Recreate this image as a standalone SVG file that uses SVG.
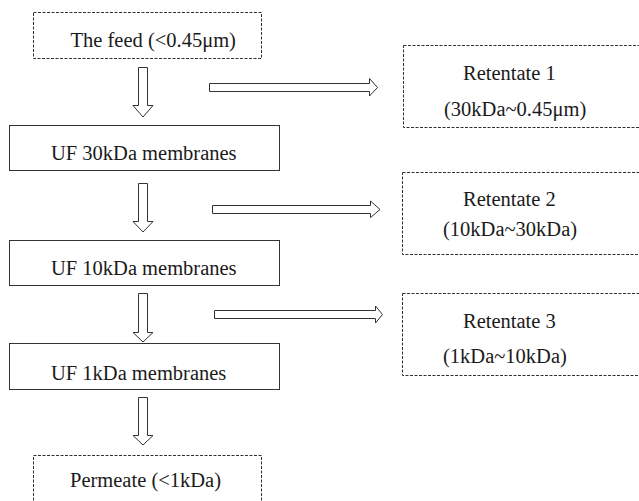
<svg xmlns="http://www.w3.org/2000/svg" width="639" height="501" viewBox="0 0 639 501">
  <style>
    .solid { fill: #ffffff; stroke: #333333; stroke-width: 1; }
    .dashed { fill: #ffffff; stroke: #333333; stroke-width: 1; stroke-dasharray: 3 1.5; }
    .label { font-family: "Liberation Serif", "Times New Roman", serif; font-size: 20.5px; fill: #1a1a1a; }
    .arrow { fill: #ffffff; stroke: #333333; stroke-width: 1; stroke-linejoin: miter; }
  </style>
  <rect width="639" height="501" fill="#ffffff"/>

  <!-- Main separation chain -->
  <g id="feed">
    <rect class="dashed" x="33.5" y="12.5" width="228" height="46"/>
    <text class="label" x="70.5" y="47">The feed (&lt;0.45μm)</text>
  </g>

  <g id="uf30">
    <rect class="solid" x="9.5" y="125.5" width="270" height="45"/>
    <text class="label" x="51" y="160">UF 30kDa membranes</text>
  </g>

  <g id="uf10">
    <rect class="solid" x="9.5" y="240.5" width="270" height="45"/>
    <text class="label" x="51" y="275">UF 10kDa membranes</text>
  </g>

  <g id="uf1">
    <rect class="solid" x="9.5" y="343.5" width="270" height="46"/>
    <text class="label" x="51" y="380">UF 1kDa membranes</text>
  </g>

  <g id="permeate">
    <rect class="dashed" x="33.5" y="455.5" width="228" height="60"/>
    <text class="label" x="70" y="487">Permeate (&lt;1kDa)</text>
  </g>

  <!-- Retentate fractions -->
  <g id="retentate1">
    <rect class="dashed" x="403.5" y="45.5" width="250" height="82"/>
    <text class="label" x="463" y="80">Retentate 1</text>
    <text class="label" x="444" y="116">(30kDa~0.45μm)</text>
  </g>

  <g id="retentate2">
    <rect class="dashed" x="402.5" y="172.5" width="250" height="82"/>
    <text class="label" x="463" y="206">Retentate 2</text>
    <text class="label" x="443" y="236">(10kDa~30kDa)</text>
  </g>

  <g id="retentate3">
    <rect class="dashed" x="402.5" y="293.5" width="250" height="82"/>
    <text class="label" x="463" y="328">Retentate 3</text>
    <text class="label" x="443" y="363">(1kDa~10kDa)</text>
  </g>

  <!-- Hollow block arrows -->
  <g id="connectors">
    <polygon class="arrow" points="138.5,67.5 147.5,67.5 147.5,105.5 153,105.5 143,117 133,105.5 138.5,105.5"/>
    <polygon class="arrow" points="138.5,183.5 147.5,183.5 147.5,221.5 153,221.5 143,232 133,221.5 138.5,221.5"/>
    <polygon class="arrow" points="138.5,293.5 147.5,293.5 147.5,332.5 153,332.5 143,342 133,332.5 138.5,332.5"/>
    <polygon class="arrow" points="138.5,397.5 147.5,397.5 147.5,435.5 153,435.5 143,445 133,435.5 138.5,435.5"/>

    <polygon class="arrow" points="209.5,83.5 369.5,83.5 369.5,78.5 377.5,87.5 369.5,96 369.5,91.5 209.5,91.5"/>
    <polygon class="arrow" points="212.5,205.5 370.5,205.5 370.5,201 380,209.5 370.5,217.5 370.5,213.5 212.5,213.5"/>
    <polygon class="arrow" points="214.5,310.5 375.5,310.5 375.5,306 382.5,314.5 375.5,323 375.5,318.5 214.5,318.5"/>
  </g>
</svg>
